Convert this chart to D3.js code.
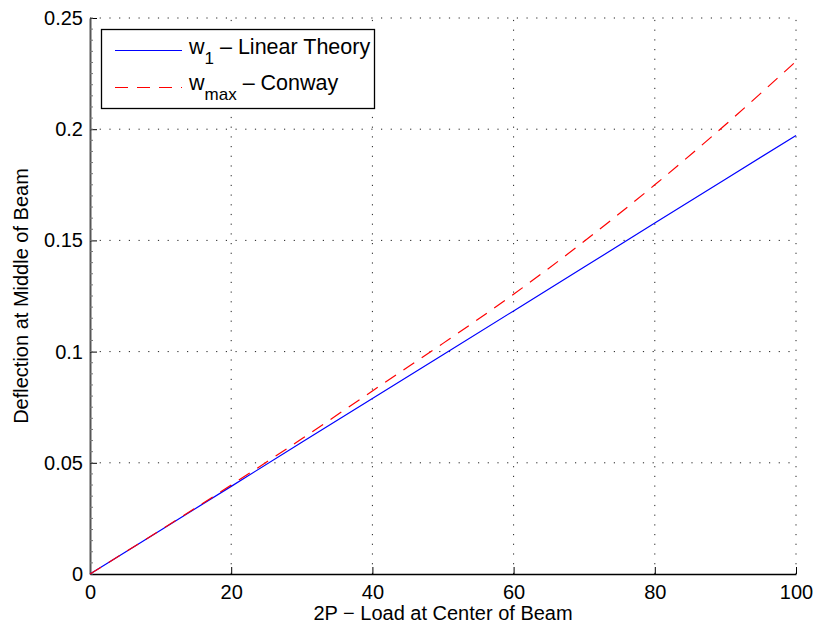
<!DOCTYPE html>
<html>
<head>
<meta charset="utf-8">
<script src="https://cdn.jsdelivr.net/npm/d3@7"></script>
<style>
  body { margin: 0; background: #fff; }
  text { font-family: "Liberation Sans", Arial, Helvetica, sans-serif; fill: #000; }
</style>
</head>
<body>
<div class="chart"></div>
<script>
// load values (2P) and deflections
var loads = [0, 10, 20, 30, 40, 50, 60, 70, 80, 90, 100];
var linearW = [0, 0.0197, 0.0394, 0.0592, 0.0789, 0.0986, 0.1183, 0.1380, 0.1578, 0.1775, 0.1972];
var conwayW = [0, 0.0198, 0.0400, 0.0608, 0.0823, 0.1037, 0.1258, 0.1496, 0.1750, 0.2020, 0.2305];
var xTicks = [0, 20, 40, 60, 80, 100];
var yTicks = [0, 0.05, 0.1, 0.15, 0.2, 0.25];

var svgWidth = 816;
var svgHeight = 628;

var margin = { top: 18, right: 20, bottom: 54, left: 90 };
var width = 796 - margin.left;
var height = 574 - margin.top;

var svg = d3.select(".chart")
  .append("svg")
  .attr("width", svgWidth)
  .attr("height", svgHeight);

var chartGroup = svg.append("g")
  .attr("transform", `translate(${margin.left}, ${margin.top})`);

var xLinearScale = d3.scaleLinear().domain([0, 100]).range([0, width]);
var yLinearScale = d3.scaleLinear().domain([0, 0.25]).range([height, 0]);

// dotted grid
chartGroup.selectAll(".vgrid")
  .data(xTicks.slice(1))
  .enter()
  .append("line")
  .attr("x1", d => xLinearScale(d)).attr("x2", d => xLinearScale(d))
  .attr("y1", height).attr("y2", 0)
  .attr("stroke", "#222")
  .attr("stroke-width", 1)
  .attr("stroke-dasharray", "1.2,8.5");

chartGroup.selectAll(".hgrid")
  .data(yTicks.slice(1))
  .enter()
  .append("line")
  .attr("x1", 0).attr("x2", width)
  .attr("y1", d => yLinearScale(d)).attr("y2", d => yLinearScale(d))
  .attr("stroke", "#222")
  .attr("stroke-width", 1)
  .attr("stroke-dasharray", "1.2,8.5");

// axes
var bottomAxis = d3.axisBottom(xLinearScale).tickValues(xTicks).tickSizeInner(-7).tickSizeOuter(0).tickPadding(11);
var leftAxis = d3.axisLeft(yLinearScale).tickValues(yTicks).tickFormat(d3.format("")).tickSizeInner(-7).tickSizeOuter(0).tickPadding(7);

var xAxisG = chartGroup.append("g")
  .attr("transform", `translate(0, ${height})`)
  .call(bottomAxis);

var yAxisG = chartGroup.append("g")
  .call(leftAxis);

// minor ticks on the y axis
chartGroup.selectAll(".minor")
  .data(d3.range(0, 51).map(i => i * 0.005))
  .enter()
  .append("line")
  .attr("x1", 0).attr("x2", 3)
  .attr("y1", d => yLinearScale(d)).attr("y2", d => yLinearScale(d))
  .attr("stroke", "#777")
  .attr("stroke-width", 1);

[xAxisG, yAxisG].forEach(function(g) {
  g.selectAll("path").attr("stroke", "#000").attr("stroke-width", 1.5);
  g.selectAll("line").attr("stroke", "#000");
  g.selectAll("text").style("font-size", "20px").style("font-family", "Liberation Sans, Arial, sans-serif").attr("fill", "#000");
});
yAxisG.select(".domain").attr("stroke", "#555").attr("stroke-width", 2);

// lines
var blueLine = d3.line()
  .x((d, i) => xLinearScale(loads[i]))
  .y(d => yLinearScale(d));

chartGroup.append("path")
  .datum(linearW)
  .attr("d", blueLine)
  .attr("fill", "none")
  .attr("stroke", "#0000ff")
  .attr("stroke-width", 1.2);

var redLine = d3.line()
  .curve(d3.curveMonotoneX)
  .x((d, i) => xLinearScale(loads[i]))
  .y(d => yLinearScale(d));

chartGroup.append("path")
  .datum(conwayW)
  .attr("d", redLine)
  .attr("fill", "none")
  .attr("stroke", "#ff0000")
  .attr("stroke-width", 1.2)
  .attr("stroke-dasharray", "13,9");

// legend
var legend = svg.append("g");
legend.append("rect")
  .attr("x", 101.5).attr("y", 29.5)
  .attr("width", 273).attr("height", 79)
  .attr("fill", "#fff")
  .attr("stroke", "#000")
  .attr("stroke-width", 1.3);

legend.append("line")
  .attr("x1", 115).attr("x2", 182).attr("y1", 50.5).attr("y2", 50.5)
  .attr("stroke", "#0000ff").attr("stroke-width", 1.2);
legend.append("line")
  .attr("x1", 115).attr("x2", 182).attr("y1", 87.5).attr("y2", 87.5)
  .attr("stroke", "#ff0000").attr("stroke-width", 1.2)
  .attr("stroke-dasharray", "13,9");

var t1 = legend.append("text").attr("x", 189).attr("y", 54).style("font-size", "21.5px");
t1.append("tspan").text("w");
t1.append("tspan").attr("dy", 10).style("font-size", "17px").text("1");
t1.append("tspan").attr("dy", -10).text(" \u2013 Linear Theory");

var t2 = legend.append("text").attr("x", 189).attr("y", 90).style("font-size", "21.5px");
t2.append("tspan").text("w");
t2.append("tspan").attr("dy", 10).style("font-size", "17px").text("max");
t2.append("tspan").attr("dy", -10).text(" \u2013 Conway");

// axis labels
svg.append("text")
  .attr("x", margin.left + width / 2)
  .attr("y", 620)
  .attr("text-anchor", "middle")
  .style("font-size", "20px")
  .text("2P \u2212 Load at Center of Beam");

svg.append("text")
  .attr("transform", `translate(28, ${margin.top + height / 2}) rotate(-90)`)
  .attr("text-anchor", "middle")
  .style("font-size", "20px")
  .text("Deflection at Middle of Beam");
</script>
</body>
</html>
